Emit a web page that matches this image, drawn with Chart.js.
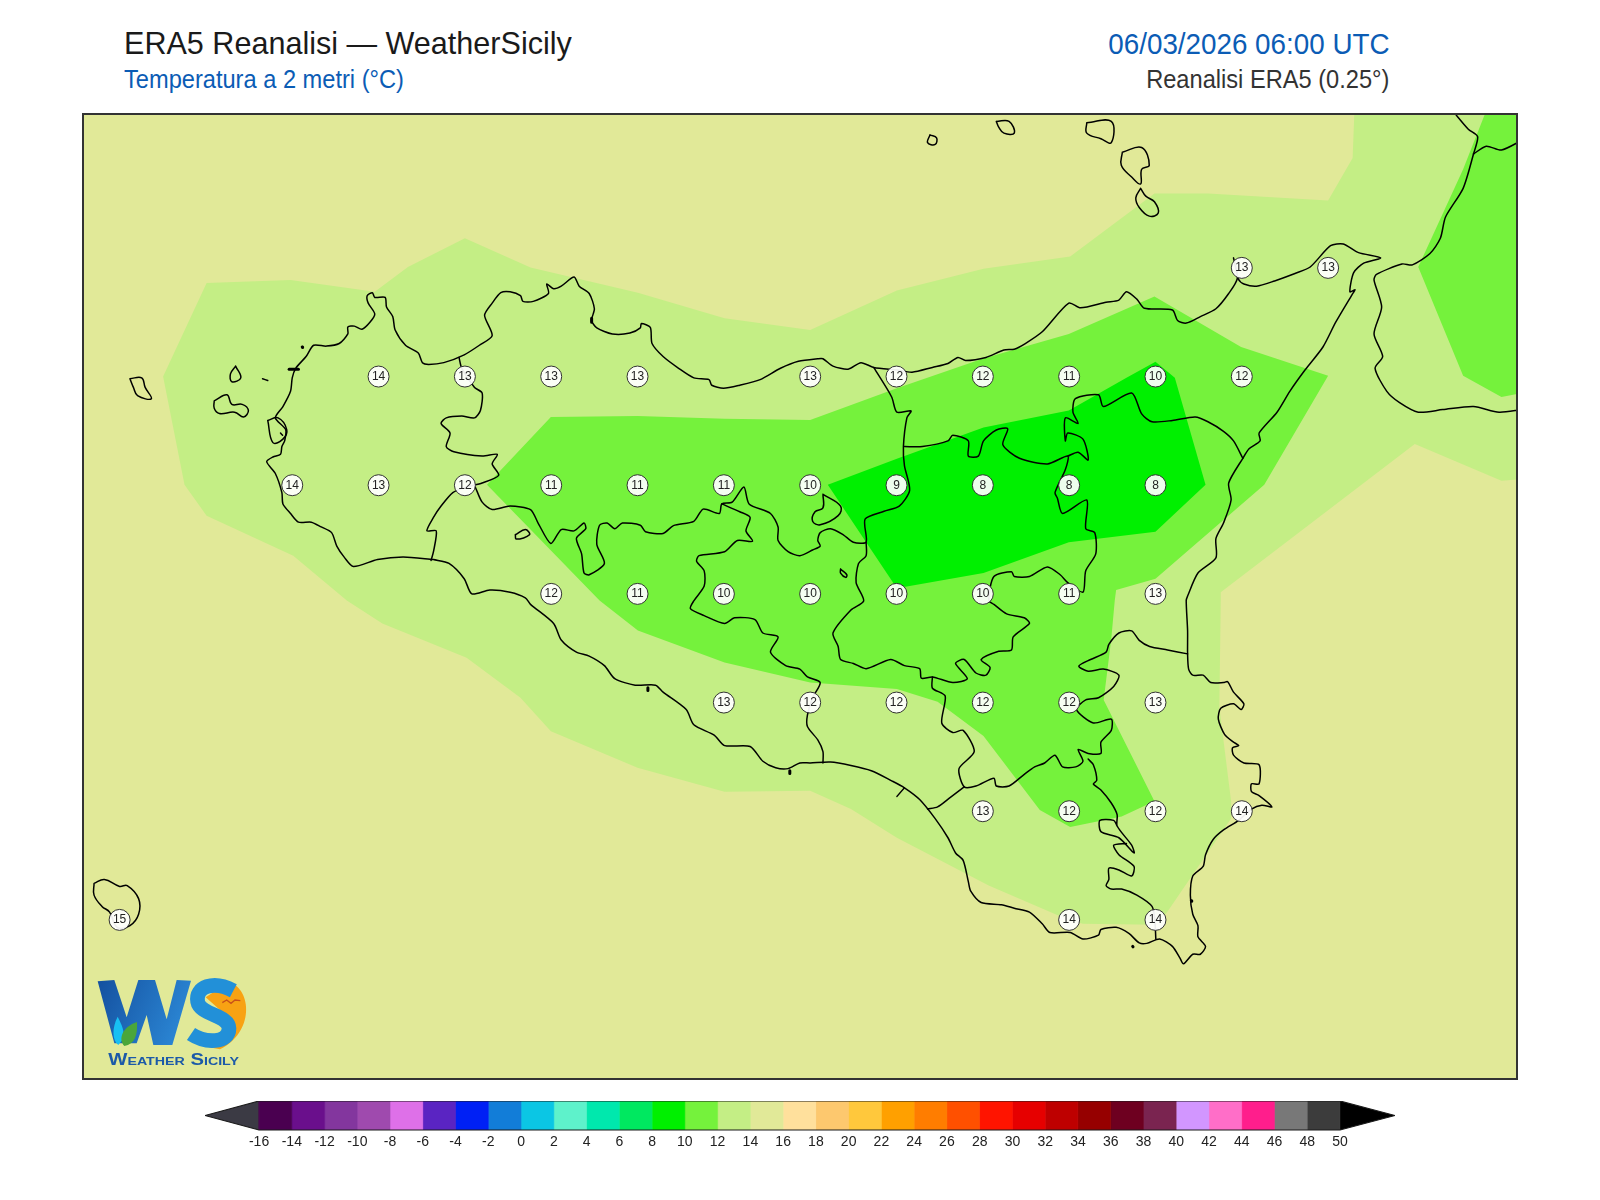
<!DOCTYPE html>
<html lang="it">
<head>
  <meta charset="UTF-8">
  <title>ERA5 Reanalisi - WeatherSicily</title>
  <script src="https://cdn.jsdelivr.net/npm/chart.js"></script>
  <style>
    html, body { margin: 0; padding: 0; background: #fff; }
    body { position: relative; width: 1600px; height: 1200px; overflow: hidden; font-family: "Liberation Sans", Arial, sans-serif; }
    .txt { position: absolute; white-space: nowrap; line-height: 1; }
    #title { left: 124px; top: 27px; font-size: 32px; color: #1a1a1a; transform: scaleX(0.955); transform-origin: left; }
    #subtitle { left: 124px; top: 67px; font-size: 25px; color: #0b5cb5; transform: scaleX(0.945); transform-origin: left; }
    #date { right: 211px; top: 29px; font-size: 29.5px; color: #0b5cb5; transform: scaleX(0.942); transform-origin: right; }
    #source { right: 211px; top: 67px; font-size: 25px; color: #333; transform: scaleX(0.945); transform-origin: right; }
    #map { position: absolute; left: 83px; top: 114px; }
    #frame { position: absolute; left: 82px; top: 113px; width: 1436px; height: 967px; box-sizing: border-box; border: 2px solid #333; }
    #bar { position: absolute; left: 205px; top: 1101px; }
    #logo { position: absolute; left: 85px; top: 960px; }
  </style>
</head>
<body>

  <div class="txt" id="title">ERA5 Reanalisi — WeatherSicily</div>
  <div class="txt" id="subtitle">Temperatura a 2 metri (°C)</div>
  <div class="txt" id="date">06/03/2026 06:00 UTC</div>
  <div class="txt" id="source">Reanalisi ERA5 (0.25°)</div>

  <canvas id="map" width="1434" height="965"></canvas>
  <div id="frame"></div>
  <canvas id="bar" width="1190" height="54"></canvas>

  <svg id="logo" width="180" height="120" viewBox="0 0 540 360">
    <defs>
      <linearGradient id="wfill" x1="0" x2="1" y1="0" y2="0.3">
        <stop offset="0" stop-color="#14509f"/>
        <stop offset="1" stop-color="#2a84d2"/>
      </linearGradient>
    </defs>
    <polygon fill="url(#wfill)" points="38,64 88,60 125,172 160,60 210,60 245,178 275,60 318,62 262,255 205,255 185,165 155,250 88,250"/>
    <path fill="#18c0f2" d="M98,170 C110,195 122,215 112,240 L100,255 C82,240 80,205 98,170 Z"/>
    <path fill="#4aa63a" d="M156,186 C158,225 150,252 118,258 C98,238 112,200 156,186 Z"/>
    <path fill="#f8a213" d="M432,66 C502,88 508,218 405,268 L372,262 C440,232 452,190 405,150 L362,112 Z"/>
    <path fill="none" stroke="#2290d8" stroke-width="44" d="M445,92 C385,60 330,80 338,125 C345,165 432,165 432,205 C432,252 360,250 318,222"/>
    <path fill="none" stroke="#c8501a" stroke-width="4" d="M412,128 L425,120 L438,130 L450,120 L466,122"/>
    <text x="70" y="316" font-family="Liberation Sans" font-weight="bold" font-size="47" fill="#1c5aa8" style="font-variant: small-caps" textLength="392" lengthAdjust="spacingAndGlyphs">Weather Sicily</text>
  </svg>

  <script>
    // map window (deg)
    var lonRange = [11.894, 16.047];
    var latRange = [36.384, 38.604];

    // ERA5 cells shown on the map
    var stationLon = [15.25, 15.5,
      12.75, 13, 13.25, 13.5, 14, 14.25, 14.5, 14.75, 15, 15.25,
      12.5, 12.75, 13, 13.25, 13.5, 13.75, 14, 14.25, 14.5, 14.75, 15,
      13.25, 13.5, 13.75, 14, 14.25, 14.5, 14.75, 15,
      13.75, 14, 14.25, 14.5, 14.75, 15,
      14.5, 14.75, 15, 15.25,
      12, 14.75, 15];
    var stationLat = [38.25, 38.25,
      38, 38, 38, 38, 38, 38, 38, 38, 38, 38,
      37.75, 37.75, 37.75, 37.75, 37.75, 37.75, 37.75, 37.75, 37.75, 37.75, 37.75,
      37.5, 37.5, 37.5, 37.5, 37.5, 37.5, 37.5, 37.5,
      37.25, 37.25, 37.25, 37.25, 37.25, 37.25,
      37, 37, 37, 37,
      36.75, 36.75, 36.75];
    var stationTemp = [13, 13,
      14, 13, 13, 13, 13, 12, 12, 11, 10, 12,
      14, 13, 12, 11, 11, 11, 10, 9, 8, 8, 8,
      12, 11, 10, 10, 10, 10, 11, 13,
      13, 12, 12, 12, 12, 13,
      13, 12, 12, 14,
      15, 14, 14];

    // temperature bands [lon, lat]
    var band14 = [[11.7,36.2],[16.2,36.2],[16.2,38.8],[11.7,38.8]];
    var band12 = [[12.126,38.000],[12.252,38.215],[12.495,38.222],[12.739,38.195],[12.835,38.252],[13.000,38.318],[13.190,38.251],[13.501,38.193],[13.752,38.134],[14.000,38.107],[14.251,38.198],[14.502,38.248],[14.753,38.276],[14.997,38.421],[15.152,38.421],[15.500,38.405],[15.571,38.503],[15.578,38.65],[16.2,38.65],[16.2,37.773],[16.002,37.760],[15.751,37.845],[15.189,37.504],[15.189,37.485],[15.185,37.239],[15.219,37.023],[15.219,36.983],[15.034,36.768],[15.000,36.739],[14.790,36.741],[14.749,36.750],[14.517,36.829],[14.251,36.939],[14.118,37.005],[14.000,37.047],[13.752,37.045],[13.500,37.100],[13.249,37.184],[13.161,37.261],[13.005,37.353],[12.761,37.432],[12.658,37.485],[12.503,37.588],[12.252,37.680],[12.188,37.751]];
    var band10 = [[13.064,37.751],[13.249,37.907],[13.500,37.909],[13.752,37.903],[14.000,37.900],[14.251,37.973],[14.499,38.041],[14.749,38.098],[14.997,38.184],[15.248,38.068],[15.500,38.002],[15.315,37.751],[15.000,37.535],[14.886,37.509],[14.882,37.484],[14.872,37.397],[14.850,37.256],[14.997,37.023],[14.902,36.988],[14.753,36.964],[14.665,37.003],[14.502,37.173],[14.369,37.252],[14.251,37.281],[14.000,37.296],[13.752,37.342],[13.501,37.416],[13.390,37.485]];
    var band10East = [[15.977,38.65],[16.2,38.65],[16.2,37.984],[16.002,37.953],[15.891,38.002],[15.761,38.252],[15.891,38.477]];
    var band8 = [[14.051,37.751],[14.251,37.811],[14.502,37.883],[14.749,37.922],[14.916,37.997],[15.000,38.034],[15.056,37.997],[15.145,37.751],[15.000,37.643],[14.749,37.619],[14.502,37.548],[14.251,37.513]];

    // coast
    var coastSicily = [[12.909,37.579],[12.821,37.585],[12.747,37.579],[12.677,37.563],[12.651,37.584],[12.629,37.610],[12.614,37.641],[12.584,37.654],[12.555,37.665],[12.518,37.665],[12.495,37.685],[12.473,37.707],[12.470,37.733],[12.451,37.777],[12.426,37.804],[12.444,37.815],[12.466,37.821],[12.470,37.839],[12.478,37.852],[12.481,37.878],[12.451,37.905],[12.473,37.931],[12.495,37.966],[12.500,37.997],[12.510,38.019],[12.540,38.046],[12.562,38.072],[12.599,38.070],[12.636,38.076],[12.661,38.098],[12.661,38.114],[12.680,38.116],[12.702,38.109],[12.725,38.125],[12.739,38.144],[12.720,38.169],[12.717,38.186],[12.732,38.193],[12.739,38.182],[12.769,38.182],[12.773,38.160],[12.791,38.138],[12.798,38.107],[12.828,38.072],[12.865,38.054],[12.877,38.032],[12.895,38.028],[12.939,38.032],[12.998,38.050],[13.042,38.072],[13.079,38.094],[13.057,38.141],[13.079,38.169],[13.104,38.193],[13.131,38.195],[13.161,38.186],[13.168,38.173],[13.198,38.173],[13.242,38.191],[13.237,38.213],[13.257,38.202],[13.279,38.208],[13.316,38.229],[13.331,38.208],[13.360,38.191],[13.375,38.156],[13.367,38.129],[13.382,38.112],[13.427,38.098],[13.478,38.100],[13.508,38.112],[13.511,38.122],[13.537,38.113],[13.542,38.076],[13.574,38.046],[13.619,38.019],[13.663,37.997],[13.707,37.993],[13.715,37.980],[13.749,37.973],[13.796,37.980],[13.855,37.993],[13.914,38.019],[13.966,38.035],[14.022,38.041],[14.037,38.041],[14.066,38.024],[14.110,38.017],[14.147,38.032],[14.184,38.021],[14.251,38.015],[14.295,38.010],[14.354,38.021],[14.399,38.030],[14.428,38.044],[14.450,38.037],[14.509,38.044],[14.561,38.061],[14.591,38.063],[14.623,38.076],[14.672,38.103],[14.749,38.169],[14.783,38.158],[14.857,38.171],[14.894,38.176],[14.916,38.195],[14.946,38.178],[14.968,38.157],[15.049,38.153],[15.064,38.129],[15.089,38.123],[15.130,38.138],[15.175,38.156],[15.212,38.191],[15.237,38.226],[15.226,38.273],[15.241,38.223],[15.256,38.213],[15.293,38.208],[15.345,38.220],[15.404,38.237],[15.448,38.252],[15.507,38.301],[15.544,38.305],[15.588,38.285],[15.652,38.273],[15.603,38.261],[15.574,38.239],[15.563,38.195],[15.578,38.200],[15.569,38.188],[15.522,38.125],[15.485,38.068],[15.433,38.015],[15.389,37.966],[15.352,37.918],[15.300,37.870],[15.303,37.852],[15.271,37.834],[15.253,37.812],[15.212,37.755],[15.219,37.716],[15.197,37.663],[15.175,37.627],[15.175,37.583],[15.123,37.548],[15.093,37.495],[15.089,37.485],[15.093,37.415],[15.093,37.362],[15.096,37.327],[15.108,37.313],[15.138,37.313],[15.160,37.296],[15.197,37.296],[15.209,37.298],[15.226,37.274],[15.256,37.247],[15.248,37.234],[15.226,37.247],[15.189,37.237],[15.182,37.212],[15.200,37.177],[15.226,37.159],[15.241,37.151],[15.223,37.146],[15.226,37.129],[15.256,37.111],[15.300,37.107],[15.300,37.063],[15.278,37.063],[15.278,37.045],[15.300,37.036],[15.337,37.010],[15.308,37.014],[15.278,37.005],[15.241,36.979],[15.197,36.957],[15.167,36.935],[15.145,36.900],[15.138,36.873],[15.108,36.851],[15.101,36.807],[15.108,36.763],[15.123,36.737],[15.123,36.711],[15.145,36.689],[15.130,36.671],[15.108,36.671],[15.081,36.649],[15.071,36.662],[15.049,36.689],[15.012,36.706],[14.975,36.696],[14.953,36.697],[14.923,36.719],[14.886,36.733],[14.842,36.728],[14.835,36.715],[14.790,36.706],[14.753,36.721],[14.694,36.721],[14.672,36.741],[14.635,36.768],[14.591,36.777],[14.554,36.785],[14.495,36.790],[14.465,36.816],[14.458,36.838],[14.443,36.887],[14.421,36.904],[14.399,36.939],[14.362,36.983],[14.317,37.027],[14.273,37.054],[14.236,37.070],[14.177,37.093],[14.118,37.105],[14.059,37.113],[14.000,37.111],[13.970,37.111],[13.936,37.098],[13.900,37.100],[13.863,37.115],[13.826,37.149],[13.752,37.151],[13.722,37.175],[13.663,37.199],[13.641,37.234],[13.574,37.274],[13.552,37.290],[13.493,37.290],[13.434,37.305],[13.404,37.335],[13.360,37.357],[13.323,37.366],[13.279,37.394],[13.257,37.432],[13.190,37.476],[13.175,37.491],[13.131,37.504],[13.072,37.509],[13.020,37.500],[12.998,37.535],[12.954,37.570],[12.909,37.579]];
    var coastCalabria = [[15.862,38.610],[15.906,38.569],[15.933,38.552],[15.921,38.512],[15.891,38.433],[15.840,38.367],[15.825,38.318],[15.795,38.283],[15.744,38.257],[15.714,38.259],[15.640,38.235],[15.633,38.222],[15.655,38.160],[15.633,38.098],[15.658,38.046],[15.636,38.019],[15.670,37.966],[15.707,37.940],[15.761,37.918],[15.832,37.924],[15.921,37.931],[15.995,37.918],[16.060,37.924]];
    var borderCalabria = [[15.921,38.512],[15.958,38.530],[16.002,38.521],[16.060,38.543]];

    // islands
    var islandPantelleria = [[11.926,36.834],[11.956,36.843],[12.000,36.827],[12.022,36.829],[12.055,36.799],[12.055,36.763],[12.030,36.737],[11.993,36.733],[11.971,36.768],[11.949,36.781],[11.926,36.807],[11.926,36.834]];
    var islandMarettimo = [[12.030,37.995],[12.064,37.997],[12.074,37.975],[12.092,37.949],[12.052,37.956],[12.040,37.975],[12.030,37.995]];
    var islandLevanzo = [[12.336,38.024],[12.351,37.997],[12.325,37.988],[12.321,38.006],[12.336,38.024]];
    var islandFavignana = [[12.274,37.944],[12.311,37.958],[12.325,37.936],[12.355,37.936],[12.373,37.922],[12.359,37.907],[12.333,37.918],[12.289,37.915],[12.274,37.927],[12.274,37.944]];
    var islandFormica = [[12.414,37.995],[12.429,37.991]];
    var islandStagnone = [[12.429,37.899],[12.459,37.905],[12.484,37.878],[12.473,37.856],[12.444,37.848],[12.429,37.899]];
    var islandMozia = [[12.466,37.870],[12.472,37.865]];
    var islandAlicudi = [[14.347,38.556],[14.366,38.549],[14.362,38.534],[14.340,38.538],[14.347,38.556]];
    var islandFilicudi = [[14.539,38.587],[14.576,38.587],[14.591,38.560],[14.561,38.560],[14.546,38.574],[14.539,38.587]];
    var islandSalina = [[14.801,38.584],[14.872,38.587],[14.872,38.538],[14.842,38.547],[14.801,38.560],[14.801,38.584]];
    var islandLipari = [[14.904,38.516],[14.960,38.527],[14.982,38.486],[14.960,38.477],[14.957,38.443],[14.931,38.459],[14.901,38.486],[14.904,38.516]];
    var islandVulcano = [[14.957,38.433],[14.972,38.415],[14.997,38.402],[15.008,38.376],[14.982,38.369],[14.953,38.389],[14.943,38.411],[14.957,38.433]];

    // small coastal bits (salt pans, harbours, rocks)
    var coastBits = [
      [[12.491,38.017],[12.518,38.017]],
      [[13.367,38.134],[13.367,38.125]],
      [[13.530,37.284],[13.530,37.278]],
      [[13.941,37.093],[13.941,37.087]],
      [[14.934,36.689],[14.935,36.688]],
      [[15.104,36.794],[15.105,36.793]],
      [[12.529,38.068],[12.530,38.067]]
    ];
    var gelaPier = [[14.273,37.054],[14.251,37.034]];

    // province lines
    var provTrapani = [[12.983,38.044],[12.991,38.019],[13.028,37.975],[13.050,37.962],[13.045,37.922],[13.028,37.905],[12.991,37.909],[12.946,37.905],[12.931,37.892],[12.957,37.870],[12.946,37.839],[12.968,37.827],[13.050,37.817],[13.094,37.821],[13.079,37.799],[13.098,37.773],[13.050,37.755],[13.005,37.746],[12.965,37.733],[12.931,37.702],[12.909,37.676],[12.890,37.645],[12.917,37.645],[12.909,37.597],[12.902,37.577]];
    var provPalermo = [[13.030,37.746],[13.050,37.711],[13.079,37.694],[13.131,37.702],[13.190,37.694],[13.212,37.663],[13.249,37.616],[13.279,37.648],[13.316,37.645],[13.345,37.663],[13.350,37.650],[13.323,37.628],[13.338,37.592],[13.345,37.548],[13.360,37.544],[13.404,37.570],[13.382,37.614],[13.390,37.658],[13.412,37.663],[13.434,37.650],[13.456,37.663],[13.508,37.658],[13.523,37.643],[13.574,37.639],[13.604,37.657],[13.663,37.667],[13.690,37.695],[13.737,37.685],[13.744,37.707],[13.774,37.711],[13.808,37.746],[13.823,37.707],[13.885,37.685],[13.907,37.654],[13.907,37.623],[13.936,37.597],[13.970,37.588],[14.007,37.601],[14.029,37.610],[14.022,37.623],[14.029,37.641],[14.059,37.650],[14.096,37.636],[14.125,37.619],[14.162,37.619],[14.159,37.672],[14.214,37.690],[14.258,37.702],[14.288,37.738],[14.273,37.795],[14.270,37.839],[14.280,37.905],[14.292,37.921],[14.251,37.918],[14.236,37.953],[14.184,38.021]];
    var provEnna = [[14.162,37.619],[14.162,37.588],[14.140,37.570],[14.133,37.526],[14.155,37.484],[14.118,37.463],[14.066,37.410],[14.081,37.379],[14.088,37.349],[14.125,37.340],[14.162,37.328],[14.233,37.349],[14.273,37.335],[14.317,37.328],[14.322,37.306],[14.354,37.309],[14.413,37.296],[14.455,37.305],[14.421,37.340],[14.446,37.349],[14.480,37.318],[14.509,37.313],[14.521,37.331],[14.495,37.349],[14.546,37.368],[14.583,37.371],[14.588,37.401],[14.635,37.432],[14.620,37.445],[14.569,37.454],[14.532,37.476],[14.517,37.485],[14.532,37.540],[14.583,37.551],[14.591,37.540],[14.635,37.540],[14.687,37.562],[14.724,37.544],[14.746,37.526],[14.790,37.504],[14.798,37.553],[14.827,37.592],[14.824,37.641],[14.798,37.650],[14.801,37.716],[14.731,37.685],[14.716,37.720],[14.709,37.733],[14.739,37.786],[14.746,37.817],[14.687,37.799],[14.606,37.812],[14.558,37.843],[14.572,37.880],[14.539,37.877],[14.502,37.852],[14.487,37.817],[14.458,37.817],[14.458,37.852],[14.413,37.865],[14.399,37.852],[14.325,37.839],[14.273,37.839]];
    var provMessina = [[14.746,37.817],[14.776,37.826],[14.805,37.808],[14.790,37.856],[14.746,37.870],[14.739,37.852],[14.739,37.905],[14.776,37.892],[14.761,37.918],[14.768,37.949],[14.835,37.958],[14.849,37.931],[14.931,37.962],[14.960,37.914],[14.990,37.896],[15.049,37.899],[15.115,37.907],[15.152,37.896],[15.197,37.874],[15.226,37.852],[15.253,37.812]];
    var provCatania = [[15.093,37.362],[15.035,37.371],[14.983,37.379],[14.953,37.393],[14.931,37.415],[14.894,37.410],[14.865,37.384],[14.857,37.366],[14.812,37.349],[14.778,37.334],[14.805,37.322],[14.849,37.327],[14.894,37.313],[14.879,37.287],[14.835,37.261],[14.798,37.256],[14.771,37.234],[14.820,37.203],[14.872,37.212],[14.872,37.186],[14.842,37.159],[14.842,37.133],[14.805,37.133],[14.776,37.142],[14.790,37.115],[14.769,37.102],[14.731,37.102],[14.709,37.129],[14.679,37.111],[14.650,37.102],[14.620,37.085],[14.576,37.058],[14.539,37.058],[14.532,37.076],[14.480,37.058],[14.446,37.056],[14.431,37.098],[14.475,37.137],[14.443,37.186],[14.413,37.181],[14.381,37.203],[14.391,37.265],[14.354,37.283],[14.354,37.309]];
    var provGela = [[14.446,37.056],[14.406,37.032],[14.369,37.010],[14.340,37.005]];
    var provRagusa = [[14.805,37.120],[14.820,37.107],[14.830,37.071],[14.820,37.063],[14.842,37.049],[14.872,37.019],[14.889,36.992],[14.889,36.966],[14.931,36.922],[14.938,36.904],[14.894,36.939],[14.842,36.953],[14.839,36.979],[14.879,36.979],[14.889,36.966]];
    var provRagusaSouth = [[14.916,36.926],[14.879,36.922],[14.894,36.900],[14.938,36.873],[14.931,36.851],[14.894,36.865],[14.865,36.869],[14.865,36.843],[14.857,36.829],[14.872,36.821],[14.902,36.821],[14.946,36.807],[14.990,36.781],[14.998,36.750],[15.001,36.706]];
    var provAgrigento = [[13.744,37.707],[13.796,37.689],[13.826,37.676],[13.814,37.645],[13.833,37.621],[13.789,37.623],[13.752,37.597],[13.678,37.588],[13.671,37.575],[13.693,37.553],[13.693,37.518],[13.663,37.484],[13.653,37.466],[13.693,37.450],[13.752,37.432],[13.781,37.445],[13.840,37.441],[13.863,37.410],[13.907,37.401],[13.885,37.366],[13.929,37.335],[13.970,37.327],[13.992,37.309],[14.029,37.296],[14.007,37.261],[13.992,37.221],[13.992,37.195],[14.022,37.164],[14.037,37.137],[14.037,37.111]];
    var provExclaveA = [[14.037,37.729],[14.088,37.702],[14.081,37.680],[14.029,37.659],[14.007,37.667],[14.014,37.689],[14.037,37.698],[14.037,37.729]];
    var provExclaveB = [[14.088,37.557],[14.106,37.544],[14.103,37.538],[14.088,37.548],[14.088,37.557]];
    var provExclaveC = [[13.146,37.636],[13.175,37.648],[13.187,37.636],[13.149,37.626],[13.146,37.636]];

    // colour bar
    var barLevels = [-16, -14, -12, -10, -8, -6, -4, -2, 0, 2, 4, 6, 8, 10, 12, 14, 16, 18, 20, 22, 24, 26, 28, 30, 32, 34, 36, 38, 40, 42, 44, 46, 48, 50];
    var barColors = ['#4a0050', '#6a0f8c', '#83369e', '#9f4aae', '#de70e8', '#5a24c2', '#0020f5', '#127dd8', '#0bc6e4', '#5ef2cb', '#00e8ad', '#00e860', '#00f000', '#75f23c', '#c4ee85', '#e1e998', '#ffe09c', '#fdc86e', '#ffc83c', '#ffa000', '#ff7d00', '#ff5000', '#ff1400', '#e60000', '#be0000', '#960000', '#6e0020', '#7a2450', '#d296ff', '#ff6ec8', '#ff1e8c', '#787878', '#3c3c3c'];
    var barUnder = '#3b3a44';
    var barOver = '#000000';
    var barRange = [-19.3, 53.36];

    (function(){
      'use strict';

      function toPoints(list){
        return list.map(function(p){ return { x: p[0], y: p[1] }; });
      }

      function bandSet(list, color){
        var closed = list.concat([list[0]]);
        return {
          data: toPoints(closed),
          showLine: true,
          fill: 'shape',
          backgroundColor: color,
          borderWidth: 0,
          pointRadius: 0,
          tension: 0
        };
      }

      function lineSet(list, width, bend){
        return {
          data: toPoints(list),
          showLine: true,
          fill: false,
          borderColor: '#000',
          borderWidth: width,
          borderJoinStyle: 'round',
          borderCapStyle: 'round',
          pointRadius: 0,
          tension: bend || 0
        };
      }

      var stationSet = {
        data: stationLon.map(function(lon, i){ return { x: lon, y: stationLat[i] }; }),
        showLine: false,
        pointRadius: 10.5,
        pointBackgroundColor: 'rgba(255,255,255,0.93)',
        pointBorderColor: '#333',
        pointBorderWidth: 1
      };

      var shores = [coastSicily, coastCalabria, borderCalabria, provTrapani, provPalermo, provEnna, provMessina, provCatania, provGela, provRagusa, provRagusaSouth, provAgrigento].map(function(l){ return lineSet(l, 1.5, 0.25); });
      var isles = [islandPantelleria, islandMarettimo, islandLevanzo, islandFavignana, islandFormica, islandStagnone, islandMozia, islandAlicudi, islandFilicudi, islandSalina, islandLipari, islandVulcano, provExclaveA, provExclaveB, provExclaveC].map(function(l){ return lineSet(l, 1.5, 0.4); });
      var bits = coastBits.map(function(l){ return lineSet(l, 3); });

      // first dataset ends up on top
      var mapSets = [stationSet, lineSet(gelaPier, 1.3)].concat(bits, shores, isles, [
        bandSet(band8, '#00f000'),
        bandSet(band10, '#75f23c'),
        bandSet(band10East, '#75f23c'),
        bandSet(band12, '#c4ee85'),
        bandSet(band14, '#e1e998')
      ]);

      var stationText = {
        id: 'stationText',
        afterDatasetsDraw: function(chart){
          var ctx = chart.ctx;
          var points = chart.getDatasetMeta(0).data;
          ctx.save();
          ctx.font = '12px "Liberation Sans"';
          ctx.fillStyle = '#222';
          ctx.textAlign = 'center';
          ctx.textBaseline = 'middle';
          points.forEach(function(pt, i){
            ctx.fillText(String(stationTemp[i]), pt.x, pt.y);
          });
          ctx.restore();
        }
      };

      new Chart(document.getElementById('map'), {
        type: 'scatter',
        data: { datasets: mapSets },
        plugins: [stationText],
        options: {
          responsive: false,
          animation: false,
          layout: { padding: 0, autoPadding: false },
          plugins: { legend: { display: false }, tooltip: { enabled: false } },
          scales: {
            x: { type: 'linear', display: false, min: lonRange[0], max: lonRange[1] },
            y: { type: 'linear', display: false, min: latRange[0], max: latRange[1] }
          }
        }
      });

      // colour bar
      function cell(lo, hi, color){
        return bandSet([[lo, 0], [hi, 0], [hi, 1], [lo, 1]], color);
      }

      var barSets = [];
      var last = barLevels.length - 1;
      var outline = lineSet([[barLevels[0], 0], [barLevels[last], 0], [barRange[1], 0.5], [barLevels[last], 1], [barLevels[0], 1], [barRange[0], 0.5], [barLevels[0], 0]], 1.2);
      outline.borderColor = '#1a1a1a';
      outline.clip = false;
      barSets.push(outline);
      barColors.forEach(function(color, i){
        var one = cell(barLevels[i], barLevels[i + 1], color);
        one.borderColor = color;
        one.borderWidth = 0.5;
        barSets.push(one);
      });
      barSets.push(bandSet([[barRange[0], 0.5], [barLevels[0], 0], [barLevels[0], 1]], barUnder));
      barSets.push(bandSet([[barRange[1], 0.5], [barLevels[last], 0], [barLevels[last], 1]], barOver));

      new Chart(document.getElementById('bar'), {
        type: 'scatter',
        data: { datasets: barSets },
        options: {
          responsive: false,
          animation: false,
          layout: { padding: 0, autoPadding: false },
          plugins: { legend: { display: false }, tooltip: { enabled: false } },
          scales: {
            x: {
              type: 'linear',
              min: barRange[0],
              max: barRange[1],
              grid: { display: false, drawTicks: false },
              border: { display: false },
              afterBuildTicks: function(axis){
                axis.ticks = barLevels.map(function(v){ return { value: v }; });
              },
              afterFit: function(axis){ axis.height = 25; },
              ticks: {
                autoSkip: false,
                maxRotation: 0,
                padding: 4,
                color: '#222',
                font: { family: 'Liberation Sans', size: 14 },
                callback: function(v){ return String(v); }
              }
            },
            y: { type: 'linear', display: false, min: 0, max: 1 }
          }
        }
      });
    }());
  </script>

</body>
</html>
